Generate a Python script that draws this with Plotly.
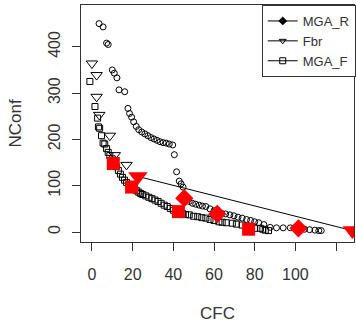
import plotly.graph_objects as go

# ---- data ----
circ_x = [3.5, 5.5, 7.2, 8.0, 10.0, 11.0, 12.3, 13.3, 16.1, 17.7, 18.5, 19.5, 20.5, 21.8, 23.0,
          24.5, 26.0, 27.5, 29.0, 30.5, 32.0, 33.5, 35.0, 36.5, 38.0, 39.7, 40.5, 41.6, 42.9,
          43.8, 44.8, 47.8, 49.4, 51.0, 52.7, 54.3, 56.0, 58.0, 60.0, 63.5, 65.7, 67.8, 69.8,
          71.8, 73.8, 76.0, 78.0, 80.0, 82.0, 84.5, 87.6, 90.7, 94.0, 97.5, 104.5, 107.0,
          109.6, 111.5, 112.7]
circ_y = [450, 443, 408, 405, 350, 343, 333, 307, 303, 267, 256, 248, 238, 228, 221,
          216, 212, 208, 204, 201, 198, 195, 193, 192, 190, 188, 167, 130, 110,
          104, 97, 66, 62, 60, 58, 56, 55, 50, 46, 41, 39, 37, 35,
          32, 30, 27, 25, 22, 20, 16, 10, 9, 9, 9, 6, 5,
          4, 3, 3]

sq_x = [-1.0, 1.5, 2.8, 3.2, 3.8, 4.7, 5.5, 6.3, 7.2, 8.0, 8.8, 10.0, 11.0, 12.0, 13.0, 14.0,
        15.0, 16.0, 17.0, 18.0, 19.0, 20.0, 21.0, 22.0, 23.0, 24.0, 25.0, 26.5, 28.0, 29.5,
        31.0, 32.5, 34.0, 35.5, 37.0, 38.5, 40.0, 42.0, 44.5, 46.0, 47.8, 50.0, 52.0, 54.0,
        56.0, 58.0, 60.0, 62.4, 64.0, 66.0, 69.0, 71.0, 73.8, 76.0, 78.0, 80.0, 82.8, 84.0,
        85.2, 86.8]
sq_y = [325, 271, 246, 227, 224, 208, 192, 190, 180, 172, 165, 158, 150, 141, 133, 125,
        118, 112, 107, 103, 99, 96, 92, 89, 86, 83, 81, 78, 75, 72,
        69, 66, 62, 58, 55, 51, 47, 44, 40, 38, 37, 34, 33, 31,
        30, 27, 25, 22, 21, 20, 19, 17, 15, 11, 9, 8, 8, 6,
        4, 3]

tri_x = [0.0, 2.3, 2.3, 3.6, 8.8, 11.2, 17.0]
tri_y = [364, 339, 292, 253, 208, 166, 145]

mgar_x = [45.4, 61.6, 101.5]
mgar_y = [73, 39, 8]

fbr_x = [22.6, 128.0]
fbr_y = [120, 3]

mgaf_x = [10.5, 19.5, 42.5, 77.0]
mgaf_y = [148, 97, 44, 6]

legend_names = ["MGA_R", "Fbr", "MGA_F"]
legend_symbols = ["diamond", "triangle-down-open", "square-open"]

x_ticks = [0, 20, 40, 60, 80, 100, 120]
x_tick_text = ["0", "20", "40", "60", "80", "100", ""]
y_ticks = [0, 100, 200, 300, 400]

FONT = "Liberation Sans, Arial, sans-serif"

fig = go.Figure()

fig.add_trace(go.Scatter(x=circ_x, y=circ_y, mode="markers", showlegend=False,
                         marker=dict(symbol="circle-open", size=6, color="black",
                                     line=dict(width=1, color="black"))))
fig.add_trace(go.Scatter(x=sq_x, y=sq_y, mode="markers", showlegend=False,
                         marker=dict(symbol="square-open", size=6, color="black",
                                     line=dict(width=1, color="black"))))
fig.add_trace(go.Scatter(x=tri_x, y=tri_y, mode="markers", showlegend=False,
                         marker=dict(symbol="triangle-down-open", size=10, color="black",
                                     line=dict(width=1, color="black"))))

fig.add_trace(go.Scatter(x=fbr_x, y=fbr_y, mode="lines+markers", showlegend=False,
                         line=dict(color="black", width=1),
                         marker=dict(symbol="triangle-down", size=17, color="red")))
fig.add_trace(go.Scatter(x=mgar_x, y=mgar_y, mode="markers", showlegend=False,
                         marker=dict(symbol="diamond", size=14, color="red")))
fig.add_trace(go.Scatter(x=mgaf_x, y=mgaf_y, mode="markers", showlegend=False,
                         marker=dict(symbol="square", size=13, color="red")))

# legend entries
for name, sym in zip(legend_names, legend_symbols):
    fig.add_trace(go.Scatter(x=[None], y=[None], mode="lines+markers", name=name,
                             line=dict(color="black", width=1),
                             marker=dict(symbol=sym, size=6, color="black",
                                         line=dict(width=1, color="black"))))

fig.update_layout(
    width=356, height=325,
    margin=dict(l=81, r=0, t=5, b=83),
    paper_bgcolor="white", plot_bgcolor="white",
    font=dict(family=FONT, size=16, color="#333"),
    showlegend=True,
    legend=dict(x=0.662, y=1, xanchor="left", yanchor="top",
                bgcolor="white", bordercolor="#333", borderwidth=1,
                font=dict(size=13, color="#333"), tracegroupgap=0,
                itemwidth=30),
    xaxis=dict(range=[-5.37, 128.8], tickvals=x_ticks, ticktext=x_tick_text,
               ticks="outside", ticklen=8, tickcolor="#333", showgrid=False,
               zeroline=False, showline=True, linecolor="#333", mirror=True,
               ticklabelstandoff=10),
    yaxis=dict(range=[-21.6, 490.3], tickvals=y_ticks, tickangle=-90,
               ticks="outside", ticklen=8, tickcolor="#333", showgrid=False,
               zeroline=False, showline=True, linecolor="#333", mirror=True,
               ticklabelstandoff=6),
    annotations=[
        dict(text="CFC", xref="paper", yref="paper", x=0.5, y=0, xanchor="center",
             yanchor="middle", yshift=-71, showarrow=False,
             font=dict(size=17, color="#333")),
        dict(text="NConf", xref="paper", yref="paper", x=0, y=0.5, xanchor="center",
             yanchor="middle", xshift=-66, textangle=-90, showarrow=False,
             font=dict(size=17, color="#333")),
    ],
)

fig.write_html("out.html", config={"displayModeBar": False},
               post_script="document.body.style.margin='0';document.body.style.padding='0';")
